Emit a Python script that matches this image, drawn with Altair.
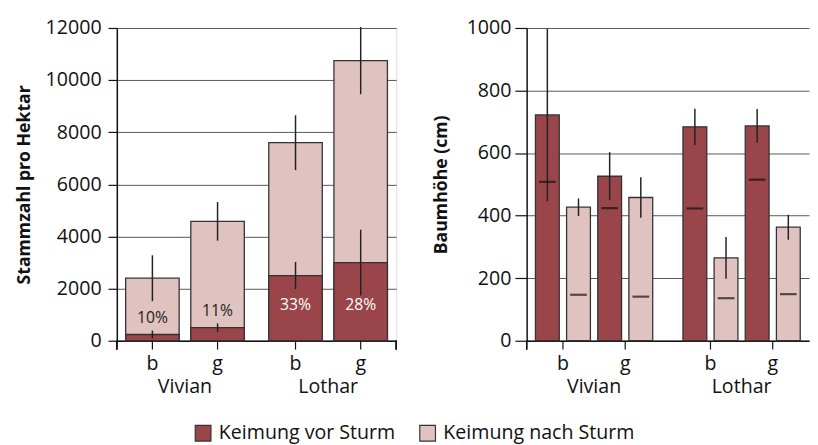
import altair as alt
import pandas as pd

# ---------------- data ----------------
storms = ["Vivian", "Vivian", "Lothar", "Lothar"]
types = ["b", "g", "b", "g"]

# left panel: Stammzahl pro Hektar
stems_total = [2400, 4580, 7600, 10750]
stems_total_err = [880, 740, 1050, 1290]
stems_vor = [240, 500, 2500, 3000]
stems_vor_err = [150, 165, 520, 1260]

# right panel: Baumhöhe (cm)
height_vor = [722, 526, 684, 687]
height_vor_err = [276, 77, 58, 54]
height_vor_median = [508, 424, 423, 515]
height_nach = [427, 458, 265, 363]
height_nach_err = [28, 65, 67, 40]
height_nach_median = [147, 141, 136, 149]

VOR = "Keimung vor Sturm"
NACH = "Keimung nach Sturm"
storm_order = ["Vivian", "Lothar"]
type_order = ["b", "g"]
key_order = ["b_vor", "b_nach", "g_vor", "g_nach"]

# ---------------- tables ----------------
left_rows = []
for s, t, v, e in zip(storms, types, stems_total, stems_total_err):
    left_rows.append(dict(storm=s, type=t, timing=NACH, value=v, err=e))
for s, t, v, e in zip(storms, types, stems_vor, stems_vor_err):
    left_rows.append(dict(storm=s, type=t, timing=VOR, value=v, err=e))
left_df = pd.DataFrame(left_rows)
pct_df = pd.DataFrame(dict(storm=storms, type=types, vor=stems_vor, total=stems_total))
lab_df = pd.DataFrame(dict(storm=storms, type=types))

right_rows = []
for i in range(4):
    right_rows.append(dict(storm=storms[i], type=types[i], key=types[i] + "_vor", timing=VOR,
                           mean=height_vor[i], err=height_vor_err[i], median=height_vor_median[i]))
    right_rows.append(dict(storm=storms[i], type=types[i], key=types[i] + "_nach", timing=NACH,
                           mean=height_nach[i], err=height_nach_err[i], median=height_nach_median[i]))
right_df = pd.DataFrame(right_rows)

# ---------------- style ----------------
FONT = "Open Sans"
DARK = "#9a4549"
LIGHT = "#e0c2c0"
LW, RW, H = 285, 288, 319

color = alt.Color("timing:N", scale=alt.Scale(domain=[VOR, NACH], range=[DARK, LIGHT]),
                  legend=alt.Legend(title=None, orient="none", legendX=78, legendY=403,
                                    direction="horizontal", symbolType="square", symbolSize=256,
                                    symbolStrokeColor="#333", symbolStrokeWidth=1.2,
                                    symbolOpacity=1, labelFontSize=20, labelFont=FONT,
                                    labelColor="#111", columnPadding=21, labelOffset=6,
                                    labelLimit=400, padding=0))


def x_enc(pi, po):
    return alt.X("storm:N", sort=storm_order,
                 scale=alt.Scale(domain=storm_order, paddingInner=pi, paddingOuter=po),
                 axis=alt.Axis(title=None, labelAngle=0, ticks=False, tickSize=0,
                               labelPadding=53, labelBaseline="alphabetic", labelFontSize=20,
                               labelFont=FONT, labelColor="#111", domainColor="#111",
                               domainWidth=1.5))


# ---------------- left panel ----------------
xl = x_enc(0.171, 0.0616)
xo_l = alt.XOffset("type:N", sort=type_order,
                   scale=alt.Scale(type="band", domain=type_order, paddingInner=0.179,
                                   paddingOuter=0))
yl_axis = alt.Axis(title="Stammzahl pro Hektar", values=list(range(0, 12001, 2000)), format="d",
                   tickSize=9, labelPadding=7, labelFontSize=20, labelFont=FONT,
                   labelColor="#111", titleFontSize=18, titleFont=FONT, titleFontWeight="bold",
                   titleColor="#111", titlePadding=12, domainColor="#111", domainWidth=1.5,
                   tickColor="#111", tickWidth=1.2, gridColor="#555", gridWidth=1)
yl_scale = alt.Scale(domain=[0, 12000], nice=False)

left_bars = alt.Chart(left_df).mark_bar(stroke="#333", strokeWidth=1.3).encode(
    x=xl, xOffset=xo_l,
    y=alt.Y("value:Q", stack=None, scale=yl_scale, axis=yl_axis),
    color=color,
)
left_err = alt.Chart(left_df).transform_calculate(
    lo="datum.value - datum.err", hi="datum.value + datum.err"
).mark_rule(color="#222", strokeWidth=1.5).encode(
    x=xl, xOffset=xo_l, y=alt.Y("lo:Q", scale=yl_scale), y2="hi:Q"
)
left_pct = alt.Chart(pct_df).transform_calculate(
    pct="round(datum.vor / datum.total * 100) + '%'",
    ly="min(datum.vor + 620, 1350)",
).mark_text(font=FONT, fontSize=16, baseline="middle").encode(
    x=xl, xOffset=xo_l, y=alt.Y("ly:Q", scale=yl_scale), text="pct:N",
    color=alt.condition("datum.vor > 1000", alt.value("#ffffff"), alt.value("#222222")),
)
left_ticks = alt.Chart(lab_df).mark_rule(color="#111", strokeWidth=1.2).encode(
    x=xl, xOffset=xo_l, y=alt.value(H), y2=alt.value(H + 9)
)
left_lbl = alt.Chart(lab_df).mark_text(font=FONT, fontSize=20, baseline="alphabetic",
                                       color="#111").encode(
    x=xl, xOffset=xo_l, y=alt.value(H + 30), text="type:N"
)
left_ends = alt.Chart(lab_df).mark_rule(color="#111", strokeWidth=1.2).encode(
    x=alt.value(0), y=alt.value(H), y2=alt.value(H + 9)
)
left_end2 = alt.Chart(lab_df).mark_rule(color="#111", strokeWidth=1.2).encode(
    x=alt.value(LW), y=alt.value(H), y2=alt.value(H + 9)
)
left = alt.layer(left_bars, left_err, left_pct, left_ticks, left_lbl, left_ends,
                 left_end2).properties(width=LW, height=H)

# ---------------- right panel ----------------
xr = x_enc(0.205, 0.0596)
xo_r = alt.XOffset("key:N", sort=key_order,
                   scale=alt.Scale(type="band", domain=key_order, paddingInner=0.235,
                                   paddingOuter=0))
xo_r2 = alt.XOffset("type:N", sort=type_order,
                    scale=alt.Scale(type="band", domain=type_order, paddingInner=0.116,
                                    paddingOuter=0))
yr_axis = alt.Axis(title="Baumhöhe (cm)", values=list(range(0, 1001, 200)), format="d",
                   tickSize=12, labelPadding=4, labelFontSize=20, labelFont=FONT,
                   labelColor="#111", titleFontSize=18, titleFont=FONT, titleFontWeight="bold",
                   titleColor="#111", titlePadding=16, domainColor="#111", domainWidth=1.5,
                   tickColor="#111", tickWidth=1.2, gridColor="#555", gridWidth=1)
yr_scale = alt.Scale(domain=[0, 1000], nice=False)

right_bars = alt.Chart(right_df).mark_bar(stroke="#333", strokeWidth=1.3).encode(
    x=xr, xOffset=xo_r,
    y=alt.Y("mean:Q", scale=yr_scale, axis=yr_axis),
    color=color,
)
right_err = alt.Chart(right_df).transform_calculate(
    lo="datum.mean - datum.err", hi="datum.mean + datum.err"
).mark_rule(color="#222", strokeWidth=1.5).encode(
    x=xr, xOffset=xo_r, y=alt.Y("lo:Q", scale=yr_scale), y2="hi:Q"
)
right_med = alt.Chart(right_df).mark_tick(color="#111", thickness=2.2, size=17,
                                          orient="horizontal").encode(
    x=xr, xOffset=xo_r, y=alt.Y("median:Q", scale=yr_scale)
)
right_main = alt.layer(right_bars, right_err, right_med)
right_ticks = alt.Chart(lab_df).mark_rule(color="#111", strokeWidth=1.2).encode(
    x=xr, xOffset=xo_r2, y=alt.value(H), y2=alt.value(H + 9)
)
right_lbl = alt.Chart(lab_df).mark_text(font=FONT, fontSize=20, baseline="alphabetic",
                                        color="#111").encode(
    x=xr, xOffset=xo_r2, y=alt.value(H + 30), text="type:N"
)
right_end = alt.Chart(lab_df).mark_rule(color="#111", strokeWidth=1.2).encode(
    x=alt.value(0), y=alt.value(H), y2=alt.value(H + 9)
)
right_deco = alt.layer(right_ticks, right_lbl)
right = alt.layer(right_main, right_deco, right_end).resolve_scale(
    xOffset="independent"
).properties(width=RW, height=H, view=alt.ViewBackground(stroke="transparent"))

chart = alt.hconcat(left, right, spacing=34).properties(
    padding={"left": 7, "top": 5, "right": 0, "bottom": 0}
).configure_view(stroke="#333", strokeWidth=1.5).configure(font=FONT)

chart.save("out.html", embed_options={"renderer": "svg", "actions": False})
